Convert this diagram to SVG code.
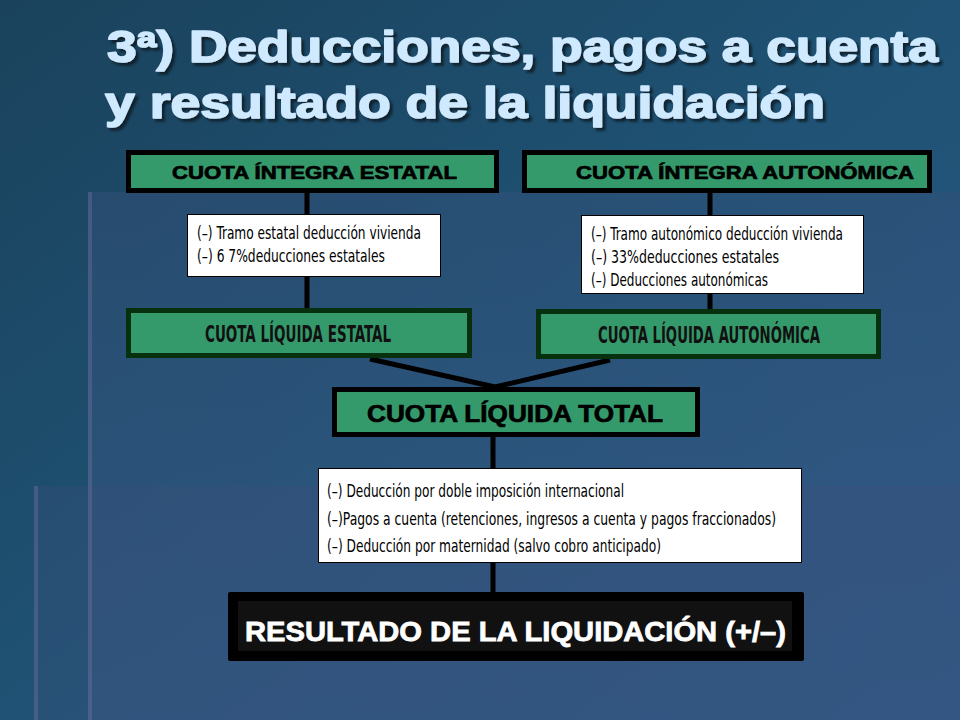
<svg xmlns="http://www.w3.org/2000/svg" width="960" height="720" viewBox="0 0 960 720">
<style>
.title{font-family:"Liberation Sans",Arial,sans-serif;font-weight:bold;font-size:44px;fill:#cfe9ff;stroke:#cfe9ff;stroke-width:1.6;stroke-linejoin:round}
.gbox{fill:#359a6b;stroke:#000;stroke-width:5}
.lbox{fill:#359a6b;stroke:#07300f;stroke-width:5}
.wbox{fill:#fff;stroke:#000;stroke-width:1}
.lbl{font-family:"Liberation Sans",Arial,sans-serif;font-weight:bold;fill:#000;stroke:#000;stroke-width:0.7}
.cond{font-family:"DejaVu Sans Condensed","Liberation Sans",sans-serif;font-weight:bold;fill:#111}
.note{font-family:"DejaVu Sans Condensed","Liberation Sans",sans-serif;font-size:17px;fill:#000}
.conn{stroke:#000;stroke-width:5;fill:none}
</style>
<defs>
<linearGradient id="bg" x1="0" y1="0" x2="1" y2="1">
<stop offset="0" stop-color="#1a425c"/>
<stop offset="0.5" stop-color="#1f5274"/>
<stop offset="1" stop-color="#2a5a86"/>
</linearGradient>
<linearGradient id="p1" x1="0" y1="0" x2="0" y2="1">
<stop offset="0" stop-color="#34507a" stop-opacity="0.45"/>
<stop offset="1" stop-color="#3a5a88" stop-opacity="0.5"/>
</linearGradient>
<filter id="shadow" x="-5%" y="-20%" width="110%" height="150%">
<feDropShadow dx="3" dy="3" stdDeviation="1" flood-color="#0a1a28" flood-opacity="0.9"/>
</filter>
</defs>
<rect x="0" y="0" width="960" height="720" fill="url(#bg)"/>
<g id="panels">
<rect x="88" y="192" width="872" height="528" fill="url(#p1)"/>
<rect x="34" y="486" width="926" height="234" fill="#3a4f7c" fill-opacity="0.35"/>
<rect x="88" y="192" width="4" height="528" fill="#6a6c98" fill-opacity="0.45"/>
<rect x="34" y="486" width="4" height="234" fill="#6a6c98" fill-opacity="0.45"/>
</g>
<g id="title" filter="url(#shadow)">
<text class="title" x="107" y="62" textLength="831" lengthAdjust="spacingAndGlyphs">3ª) Deducciones, pagos a cuenta</text>
<text class="title" x="105" y="118" textLength="720" lengthAdjust="spacingAndGlyphs">y resultado de la liquidación</text>
</g>
<g id="connectors">
<line class="conn" x1="307" y1="193" x2="307" y2="310"/>
<line class="conn" x1="710" y1="193" x2="710" y2="311"/>
<line class="conn" x1="370" y1="359" x2="495" y2="387"/>
<line class="conn" x1="610" y1="360" x2="495" y2="387"/>
<line class="conn" x1="493" y1="437" x2="493" y2="469"/>
<line class="conn" x1="493" y1="562" x2="493" y2="594"/>
</g>
<g id="cuota-integra-estatal">
<rect class="gbox" x="128.5" y="152.5" width="368" height="38"/>
<text class="lbl" x="172" y="179" font-size="18" textLength="285" lengthAdjust="spacingAndGlyphs">CUOTA ÍNTEGRA ESTATAL</text>
</g>
<g id="cuota-integra-autonomica">
<rect class="gbox" x="524.5" y="152.5" width="405" height="38"/>
<text class="lbl" x="576" y="179" font-size="18" textLength="338" lengthAdjust="spacingAndGlyphs">CUOTA ÍNTEGRA AUTONÓMICA</text>
</g>
<g id="deducciones-estatales">
<rect class="wbox" x="187.5" y="214.5" width="253" height="62"/>
<text class="note" x="197" y="239" textLength="224" lengthAdjust="spacingAndGlyphs">(–) Tramo estatal deducción vivienda</text>
<text class="note" x="197" y="262" textLength="188" lengthAdjust="spacingAndGlyphs">(–) 6 7%deducciones estatales</text>
</g>
<g id="deducciones-autonomicas">
<rect class="wbox" x="581.5" y="215.5" width="282" height="78"/>
<text class="note" x="591" y="240" textLength="252" lengthAdjust="spacingAndGlyphs">(–) Tramo autonómico deducción vivienda</text>
<text class="note" x="591" y="263" textLength="188" lengthAdjust="spacingAndGlyphs">(–) 33%deducciones estatales</text>
<text class="note" x="591" y="286" textLength="177" lengthAdjust="spacingAndGlyphs">(–) Deducciones autonómicas</text>
</g>
<g id="cuota-liquida-estatal">
<rect class="lbox" x="128.5" y="310.5" width="341" height="45"/>
<text class="cond" x="205" y="342" font-size="23" textLength="186" lengthAdjust="spacingAndGlyphs">CUOTA LÍQUIDA ESTATAL</text>
</g>
<g id="cuota-liquida-autonomica">
<rect class="lbox" x="538.5" y="311.5" width="340" height="45"/>
<text class="cond" x="598" y="343" font-size="23" textLength="222" lengthAdjust="spacingAndGlyphs">CUOTA LÍQUIDA AUTONÓMICA</text>
</g>
<g id="cuota-liquida-total">
<rect class="gbox" x="334.5" y="389.5" width="363" height="45"/>
<text class="lbl" x="367" y="422" font-size="23" textLength="296" lengthAdjust="spacingAndGlyphs">CUOTA LÍQUIDA TOTAL</text>
</g>
<g id="deducciones-pagos">
<rect class="wbox" x="318.5" y="468.5" width="483" height="94"/>
<text class="note" x="327" y="497" textLength="297" lengthAdjust="spacingAndGlyphs">(–) Deducción por doble imposición internacional</text>
<text class="note" x="327" y="525" textLength="449" lengthAdjust="spacingAndGlyphs">(–)Pagos a cuenta (retenciones, ingresos a cuenta y pagos fraccionados)</text>
<text class="note" x="327" y="552" textLength="334" lengthAdjust="spacingAndGlyphs">(–) Deducción por maternidad (salvo cobro anticipado)</text>
</g>
<g id="resultado">
<rect x="228" y="592" width="576" height="69" rx="2" fill="#000"/>
<rect x="238" y="601" width="554" height="50" fill="#111"/>
<text x="245" y="641" font-family="'Liberation Sans',Arial,sans-serif" font-weight="bold" font-size="28" fill="#fff" stroke="#fff" stroke-width="0.8" textLength="541" lengthAdjust="spacingAndGlyphs">RESULTADO DE LA LIQUIDACIÓN (+/–)</text>
</g>
</svg>
